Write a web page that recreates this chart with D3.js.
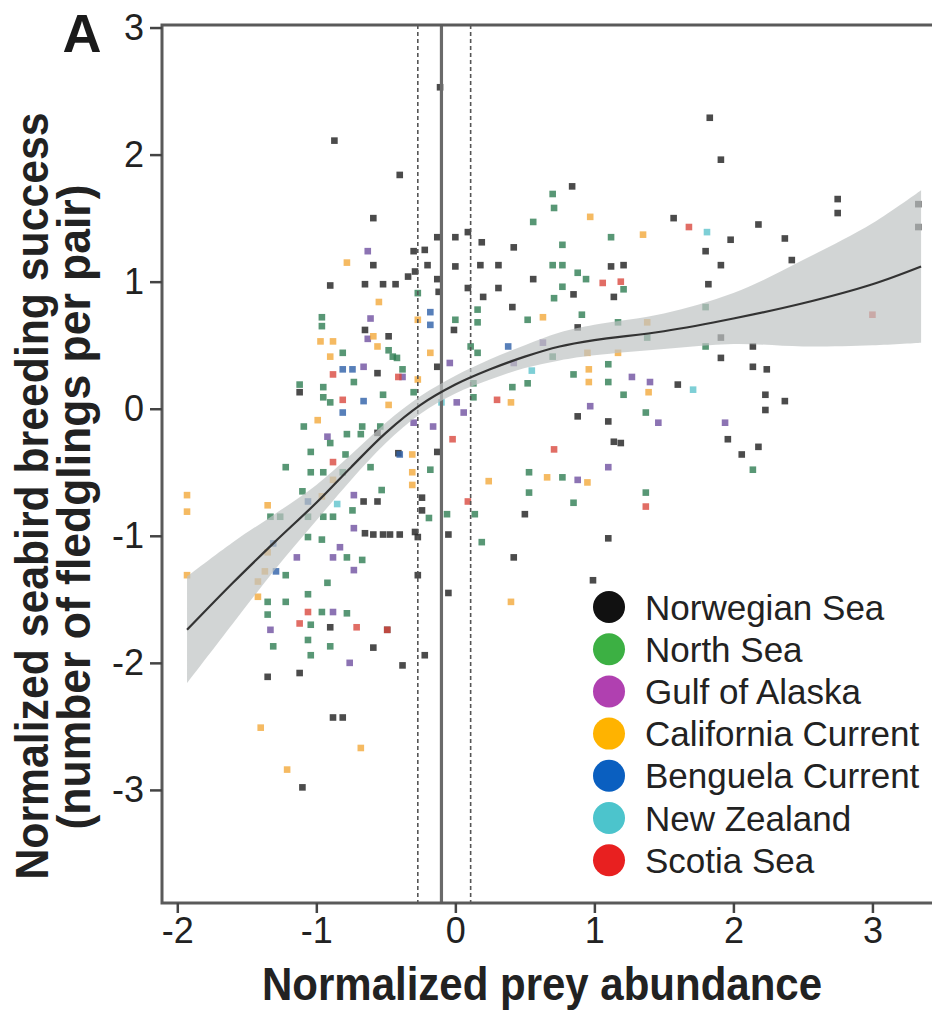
<!DOCTYPE html>
<html><head><meta charset="utf-8">
<script src="https://cdn.jsdelivr.net/npm/d3@7"></script>
<style>body{margin:0;background:#fff}svg{display:block}</style>
</head><body>
<svg id="chart" width="932" height="1015"></svg>
<script>
// ---------- DATA ----------
const regionNames = ["Norwegian Sea","North Sea","Gulf of Alaska","California Current","Benguela Current","New Zealand","Scotia Sea"];
const legendColors = ["#111111","#3cb043","#b040b0","#ffb300","#0a5fc0","#4cc4cc","#e82020"];
const pointColors  = ["#2b2b2b","#2e7d52","#6f50a0","#f2a93b","#2d5fa8","#5ec3cc","#d9483f"];

const norwegianSea = [[-0.11,2.53],[-0.87,2.11],[-0.40,1.84],[1.83,2.29],[1.91,1.96],[0.84,1.75],[-0.59,1.50],
[-0.13,1.35],[0,1.35],[0.09,1.39],[0.19,1.31],[-0.30,1.24],[-0.22,1.25],[-0.59,1.13],
[-0.20,1.13],[-0.29,1.08],[-0.34,1.04],[0,1.12],[0.18,1.13],[0.31,1.13],[0.42,1.27],
[-0.13,1.02],[-0.12,0.92],[0.09,0.95],[0.31,0.95],[0.20,0.88],[-0.52,0.98],[-0.43,0.98],
[-0.90,0.97],[-0.65,0.98],[0.56,1.02],[0.41,0.80],[-0.01,0.62],[-0.65,0.62],[-0.48,0.57],
[-0.56,0.28],[-0.13,0.33],[-1.12,0.13],[-0.56,-0.19],[-0.41,-0.35],[-0.13,-0.34],
[-0.56,-0.73],[-0.66,-0.73],[-0.24,-0.70],[-0.24,-0.80],[-0.65,-0.98],[-0.59,-0.99],[-0.52,-0.99],[-0.47,-0.99],[-0.40,-0.99],[-0.29,-0.97],[-0.27,-1.01],[-0.05,-0.99],[-0.27,-1.31],[-0.05,-1.45],[-0.49,-1.74],[-0.59,-1.88],[-0.22,-1.94],[-0.38,-2.02],[-0.90,-1.72],[-1.35,-2.11],[-1.12,-2.08],[-0.88,-2.43],[-0.81,-2.43],[-1.10,-2.98],
[1.57,1.50],[1.98,1.33],[2.18,1.45],[1.80,1.24],[1.91,1.13],[1.12,1.12],[1.21,1.13],[1.14,0.88],[0.85,0.90],[1.82,0.98],[0.88,0.64],[1.91,0.56],[2.14,0.49],[1.91,0.40],[2.14,0.33],[2.24,0.31],[1.60,0.19],[2.23,0.11],[2.23,-0.01],[0.88,-0.06],[1.10,-0.10],[2.75,1.65],[2.75,1.54],[3.33,1.61],[3.33,1.43],[2.37,1.34],[2.42,1.17],[2.37,0.06],[1.96,-0.24],[2.06,-0.36],[2.18,-0.30],[1.14,-0.26],[1.19,-0.27],[0.50,-0.83],[1.10,-1.02],[0.42,-1.17],[0.99,-1.35]];

const northSea = [[0.70,1.69],[0.71,1.58],[0.56,1.47],[0.77,1.29],[0.70,1.13],[0.77,1.13],[0.77,0.96],[0.71,0.87],[0.52,0.70],[0.16,0.78],[0.16,0.68],[0,0.70],[-0.45,0.41],[-0.38,0.31],[0.11,0.49],[0.16,0.44],[0.70,0.41],[0.52,0.20],[0.41,0.17],[0.13,0.20],[0.13,0.09],[-0.54,-0.14],[-0.96,0.72],[-0.96,0.65],[-0.81,0.44],[-0.48,0.46],[-0.42,0.40],[-0.73,0.21],[-1.12,0.19],[-0.95,0.17],[-0.95,0.09],[-0.90,0.05],[-0.52,0.11],[-0.30,0.13],[-1.09,-0.14],[-0.67,-0.14],[-0.90,-0.27],[-0.78,-0.20],[-0.68,-0.20],[-1.04,-0.34],[-0.79,-0.36],[-1.22,-0.46],[-1.04,-0.50],[-0.95,-0.50],[-0.81,-0.50],[-0.61,-0.46],[-0.18,-0.48],[-1.10,-0.65],[-0.74,-0.80],[-1.33,-0.85],[-1.26,-0.85],[-1.06,-0.85],[-0.95,-0.85],[-0.88,-0.85],[-1.06,-1.01],[-0.96,-1.03],[-0.78,-1.17],[-0.67,-1.19],[-1.22,-1.31],[-0.92,-1.37],[-1.35,-1.52],[-1.22,-1.52],[-1.06,-1.46],[-1.35,-1.62],[-0.96,-1.60],[-0.78,-1.61],[-1.04,-1.70],[-1.31,-1.87],[-1.06,-1.82],[-1.04,-1.94],[-0.90,-1.87],[-0.53,-0.64],[-0.19,-0.86],[-0.06,-0.83],[0.14,-0.83],[0.53,-0.50],[0.53,-0.66],[0.77,-0.54],[0.19,-1.05],[0.85,-0.74],[1.37,-0.66],[2.14,-0.48],[1.12,1.35],[0.88,1.07],[0.94,1.02],[1.21,0.94],[0.91,0.74],[1.17,0.68],[1.10,0.35],[1.10,0.21],[0.85,0.27],[1.21,0.11],[1.37,-0.03],[1.80,0.80],[1.80,0.49],[1.38,0.56],[-0.27,0.91]];

const gulfOfAlaska = [[-0.63,1.24],[-0.61,0.71],[-0.38,0.25],[-0.04,0.36],[0.42,0.36],[0.63,0.52],[0.01,0.05],[0.06,-0.03],[-0.30,-0.11],[-0.16,-0.14],[-0.66,0.33],[-0.92,-0.22],[-0.73,-0.68],[-0.73,-0.94],[-0.83,-1.09],[-0.88,-1.17],[-1.14,-1.17],[-0.73,-1.27],[-1.33,-1.74],[-0.88,-1.60],[-0.76,-2.00],[1.40,0.21],[0.97,0.02],[1.46,-0.11],[1.10,-0.46],[0.88,-0.56],[1.94,-0.11],[1.27,0.25],[-0.63,0.55]];

const californiaCurrent = [[-0.78,1.15],[-0.55,0.84],[-0.97,0.53],[-0.88,0.53],[-0.90,0.41],[-0.56,0.49],[-0.27,0.23],[-0.48,0.03],[-0.99,-0.09],[-0.59,0.57],[0.40,0.05],[-0.88,-0.56],[-0.96,-0.69],[-1.35,-0.76],[-1.35,-1.13],[-1.37,-1.28],[-1.42,-1.36],[-1.42,-1.48],[-1.93,-0.68],[-1.93,-0.81],[-1.93,-1.31],[-1.40,-2.51],[-0.68,-2.67],[-1.21,-2.84],[-0.31,-0.36],[-0.31,-0.50],[-0.31,-0.60],[0.24,-0.57],[0.66,-0.54],[0.40,-1.52],[0.95,-0.58],[0.97,1.51],[1.35,1.37],[1.38,0.68],[0.95,0.44],[1.17,0.44],[0.96,0.31],[0.96,0.21],[1.39,0.13],[0.63,0.72],[-0.27,0.70],[-0.18,0.44]];

const benguelaCurrent = [[-0.81,0.31],[-0.74,0.31],[-0.66,0.06],[-0.81,-0.03],[-1.06,-0.73],[-1.31,-1.06],[-1.29,-1.28],[-0.18,0.76],[-0.18,0.66],[0.38,0.49],[-0.40,-0.36]];

const newZealand = [[1.71,0.15],[1.81,1.39],[0.55,0.30],[-0.85,-0.75],[-0.10,0.05]];

const scotiaSea = [[-0.88,0.27],[-0.81,0.07],[-0.88,-0.42],[-1.06,-1.60],[-1.12,-1.69],[-0.71,-1.72],[-0.49,-1.74],[-0.41,0.25],[0.30,0.07],[-0.02,-0.24],[0.09,-0.73],[0.71,-0.32],[1.37,-0.77],[1.68,1.43],[1.06,0.99],[1.19,1.00],[3.0,0.74]];

// smoother fit and confidence band
const fitX     = [-1.93,-1.6,-1.3,-1.0,-0.75,-0.5,-0.25,0,0.25,0.5,0.75,1.0,1.5,2.0,2.5,3.0,3.35];
const fitY     = [-1.74,-1.37,-1.05,-0.74,-0.46,-0.19,0.03,0.19,0.31,0.41,0.49,0.54,0.61,0.71,0.83,0.98,1.12];
const fitHalf  = [0.42,0.32,0.22,0.14,0.10,0.08,0.07,0.07,0.08,0.09,0.11,0.12,0.14,0.20,0.34,0.48,0.60];

// reference lines (mean and interval)
const vlineSolid = -0.10;
const vlineDashed = [-0.27, 0.11];

const xTicks = [-2,-1,0,1,2,3];
const yTicks = [3,2,1,0,-1,-2,-3];

// ---------- DRAW ----------
const series = [norwegianSea, northSea, gulfOfAlaska, californiaCurrent, benguelaCurrent, newZealand, scotiaSea];
const svg = d3.select("#chart");
const font = "'Liberation Sans', Arial, Helvetica, sans-serif";
const x = d3.scaleLinear().domain([-2.11, 3.45]).range([162, 935]);
const y = d3.scaleLinear().domain([-3.89, 3.02]).range([903, 25]);

// points
series.forEach((pts, i) => {
  svg.append("g").selectAll("rect").data(pts).join("rect")
    .attr("x", d => x(d[0]) - 3.3).attr("y", d => y(d[1]) - 3.3)
    .attr("width", 6.6).attr("height", 6.6)
    .attr("fill", pointColors[i]).attr("opacity", i === 0 ? 0.85 : 0.8);
});

// vertical reference lines
svg.append("line").attr("x1", x(vlineSolid)).attr("x2", x(vlineSolid))
  .attr("y1", y.range()[1]).attr("y2", y.range()[0])
  .attr("stroke", "#6a6a6a").attr("stroke-width", 3.2);
svg.selectAll(".dl").data(vlineDashed).join("line")
  .attr("x1", d => x(d)).attr("x2", d => x(d))
  .attr("y1", y.range()[1]).attr("y2", y.range()[0])
  .attr("stroke", "#555").attr("stroke-width", 1.6).attr("stroke-dasharray", "4,3");

// band and fit line
const fit = fitX.map((v, i) => ({x: v, y: fitY[i], lo: fitY[i] - fitHalf[i], hi: fitY[i] + fitHalf[i]}));
svg.append("path").datum(fit)
  .attr("d", d3.area().x(d => x(d.x)).y0(d => y(d.lo)).y1(d => y(d.hi)).curve(d3.curveCatmullRom))
  .attr("fill", "#bfc3c3").attr("opacity", 0.7);
svg.append("path").datum(fit)
  .attr("d", d3.line().x(d => x(d.x)).y(d => y(d.y)).curve(d3.curveCatmullRom))
  .attr("fill", "none").attr("stroke", "#333").attr("stroke-width", 2.2);

// frame
svg.append("rect").attr("x", x.range()[0]).attr("y", y.range()[1])
  .attr("width", x.range()[1] - x.range()[0]).attr("height", y.range()[0] - y.range()[1])
  .attr("fill", "none").attr("stroke", "#5a5a5a").attr("stroke-width", 3);

// axes
const yAxis = svg.append("g").attr("transform", `translate(${x.range()[0]},0)`)
  .call(d3.axisLeft(y).tickValues(yTicks).tickSize(12).tickSizeOuter(0).tickPadding(6).tickFormat(d => String(d)));
const xAxis = svg.append("g").attr("transform", `translate(0,${y.range()[0]})`)
  .call(d3.axisBottom(x).tickValues(xTicks).tickSize(10).tickSizeOuter(0).tickPadding(4).tickFormat(d => String(d)));
[yAxis, xAxis].forEach(g => {
  g.select(".domain").remove();
  g.selectAll(".tick line").attr("stroke", "#444").attr("stroke-width", 2.5);
  g.selectAll(".tick text").attr("fill", "#222").style("font-family", font).style("font-size", "36px");
});

// titles
svg.append("text").attr("x", 82).attr("y", 52).attr("text-anchor", "middle")
  .style("font-family", font).style("font-size", "54px").style("font-weight", "bold").attr("fill", "#1a1a1a").text("A");
svg.append("text").attr("transform", "translate(48,496) rotate(-90)").attr("text-anchor", "middle")
  .attr("textLength", 767).attr("lengthAdjust", "spacingAndGlyphs")
  .style("font-family", font).style("font-size", "47px").style("font-weight", "bold").attr("fill", "#222")
  .text("Normalized seabird breeding success");
svg.append("text").attr("transform", "translate(90,507) rotate(-90)").attr("text-anchor", "middle")
  .attr("textLength", 645).attr("lengthAdjust", "spacingAndGlyphs")
  .style("font-family", font).style("font-size", "47px").style("font-weight", "bold").attr("fill", "#222")
  .text("(number of fledglings per pair)");
svg.append("text").attr("x", 542).attr("y", 1000).attr("text-anchor", "middle")
  .attr("textLength", 560).attr("lengthAdjust", "spacingAndGlyphs")
  .style("font-family", font).style("font-size", "47px").style("font-weight", "bold").attr("fill", "#222")
  .text("Normalized prey abundance");

// legend
const lg = svg.append("g").attr("transform", "translate(609,607)");
const rows = lg.selectAll("g").data(regionNames).join("g")
  .attr("transform", (d, i) => `translate(0,${i * 42.2})`);
rows.append("circle").attr("r", 16).attr("fill", (d, i) => legendColors[i]);
rows.append("text").attr("x", 36).attr("dy", "0.36em")
  .style("font-family", font).style("font-size", "35px").attr("fill", "#222").text(d => d);
</script>
</body></html>
